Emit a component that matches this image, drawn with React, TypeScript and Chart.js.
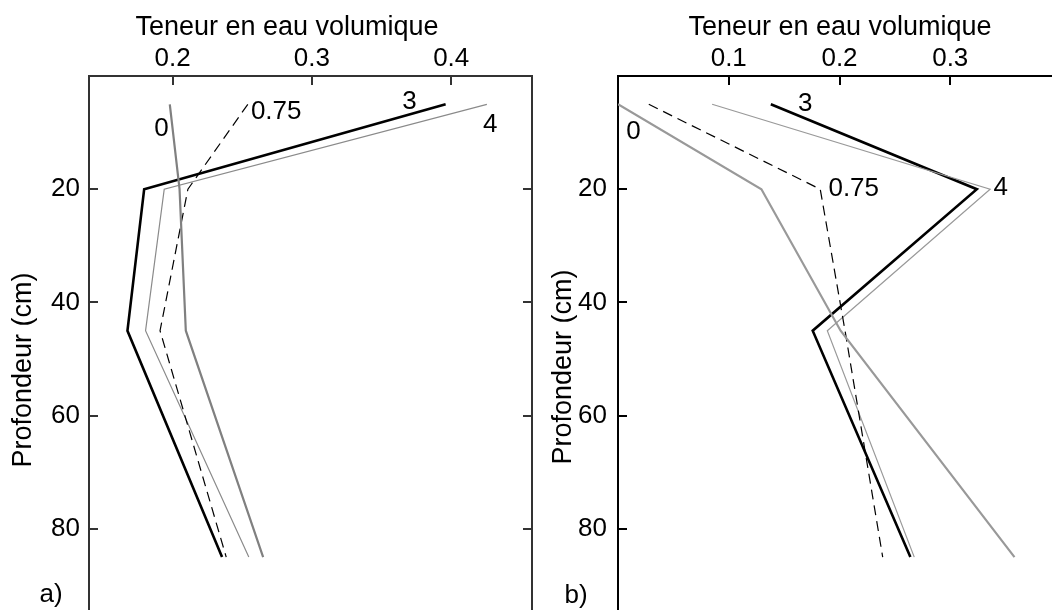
import { useEffect, useRef } from 'react';
import { Chart, registerables } from 'chart.js';
Chart.register(...registerables);

const FONT = "'Liberation Sans', Arial, Helvetica, sans-serif";
const CANVAS_H = 642;

// depths (cm)
const depths = [5, 20, 45, 85];
const yTicks = [20, 40, 60, 80];

// Panel a)
const leftXTicks = [0.2, 0.3, 0.4];
const left0 = [0.198, 0.205, 0.2095, 0.265];
const left075 = [0.254, 0.211, 0.191, 0.2385];
const left3 = [0.396, 0.1796, 0.1676, 0.2355];
const left4 = [0.4256, 0.194, 0.1806, 0.2547];
const leftLabelText = ['0', '0.75', '3', '4'];
const leftLabelX = [0.192, 0.2562, 0.37, 0.428];
const leftLabelY = [9.4, 6.3, 4.6, 8.6];
const leftLabelAlign = ['center', 'left', 'center', 'center'];

// Panel b)
const rightXTicks = [0.1, 0.2, 0.3];
const right0 = [0.0, 0.1295, 0.201, 0.358];
const right075 = [0.0278, 0.1826, 0.205, 0.239];
const right3 = [0.138, 0.324, 0.1758, 0.264];
const right4 = [0.085, 0.336, 0.189, 0.2675];
const rightLabelText = ['3', '0', '0.75', '4'];
const rightLabelX = [0.169, 0.014, 0.19, 0.3455];
const rightLabelY = [5.0, 9.9, 19.9, 19.8];
const rightLabelAlign = ['center', 'center', 'left', 'center'];

const xTitle = 'Teneur en eau volumique';
const yTitle = 'Profondeur (cm)';

type Panel = {
  offsetLeft: number;
  width: number;
  yAxisWidth: number;
  xMin: number;
  xMax: number;
  xTicks: number[];
  series: { data: number[]; color: string; width: number; dash: number[] }[];
  frameColor: string;
  titleX: number;
  yTitleX: number;
  yTitleY: number;
  panelLabel: string;
  panelX: number;
  panelY: number;
  labelText: string[];
  labelX: number[];
  labelY: number[];
  labelAlign: string[];
  yPad: number;
};

const panels: Panel[] = [
  {
    offsetLeft: 0,
    width: 542,
    yAxisWidth: 89,
    xMin: 0.14,
    xMax: 0.458,
    xTicks: leftXTicks,
    series: [
      { data: left0, color: '#808080', width: 2.2, dash: [] },
      { data: left075, color: '#000000', width: 1.2, dash: [10, 6] },
      { data: left4, color: '#8a8a8a', width: 1.2, dash: [] },
      { data: left3, color: '#000000', width: 2.6, dash: [] },
    ],
    frameColor: '#333333',
    titleX: 287,
    yTitleX: 24,
    yTitleY: 370,
    panelLabel: 'a)',
    panelX: 51,
    panelY: 595,
    labelText: leftLabelText,
    labelX: leftLabelX,
    labelY: leftLabelY,
    labelAlign: leftLabelAlign,
    yPad: 9,
  },
  {
    offsetLeft: 527,
    width: 544,
    yAxisWidth: 91,
    xMin: 0,
    xMax: 0.4,
    xTicks: rightXTicks,
    series: [
      { data: right0, color: '#999999', width: 2.2, dash: [] },
      { data: right075, color: '#000000', width: 1.2, dash: [10, 6] },
      { data: right4, color: '#999999', width: 1.2, dash: [] },
      { data: right3, color: '#000000', width: 2.6, dash: [] },
    ],
    frameColor: '#000000',
    titleX: 840,
    yTitleX: 564,
    yTitleY: 367,
    panelLabel: 'b)',
    panelX: 576,
    panelY: 596,
    labelText: rightLabelText,
    labelX: rightLabelX,
    labelY: rightLabelY,
    labelAlign: rightLabelAlign,
    yPad: 11,
  },
];

function PanelChart({ p }: { p: Panel }) {
  const ref = useRef<HTMLCanvasElement | null>(null);
  useEffect(() => {
    if (!ref.current) return;
    const decor = {
      id: 'decor',
      afterDraw(chart: any) {
        const ctx = chart.ctx;
        const area = chart.chartArea;
        const xs = chart.scales.x;
        const ys = chart.scales.y;
        ctx.save();
        // inward ticks
        ctx.strokeStyle = p.frameColor;
        ctx.lineWidth = 2;
        ctx.beginPath();
        p.xTicks.forEach((v) => {
          const px = Math.round(xs.getPixelForValue(v));
          ctx.moveTo(px, area.top);
          ctx.lineTo(px, area.top + 9);
        });
        yTicks.forEach((v) => {
          const py = Math.round(ys.getPixelForValue(v));
          ctx.moveTo(area.left, py);
          ctx.lineTo(area.left + 9, py);
          ctx.moveTo(area.right, py);
          ctx.lineTo(area.right - 9, py);
        });
        ctx.stroke();
        // texts
        ctx.fillStyle = '#000';
        ctx.font = `27px ${FONT}`;
        ctx.textAlign = 'center';
        ctx.textBaseline = 'alphabetic';
        ctx.fillText(xTitle, p.titleX - p.offsetLeft, 35);
        ctx.save();
        ctx.translate(p.yTitleX - p.offsetLeft, p.yTitleY);
        ctx.rotate(-Math.PI / 2);
        ctx.textBaseline = 'middle';
        ctx.fillText(yTitle, 0, 0);
        ctx.restore();
        ctx.font = `26px ${FONT}`;
        ctx.textBaseline = 'middle';
        ctx.fillText(p.panelLabel, p.panelX - p.offsetLeft, p.panelY);
        p.labelText.forEach((t, i) => {
          ctx.textAlign = p.labelAlign[i] as CanvasTextAlign;
          ctx.fillText(t, xs.getPixelForValue(p.labelX[i]), ys.getPixelForValue(p.labelY[i]));
        });
        ctx.restore();
      },
    };
    const noPad = (s: any) => {
      s.paddingTop = 0;
      s.paddingBottom = 0;
      s.paddingLeft = 0;
      s.paddingRight = 0;
    };
    const chart = new Chart(ref.current, {
      type: 'line',
      data: {
        datasets: p.series.map((s) => ({
          data: s.data.map((v, i) => ({ x: v, y: depths[i] })),
          borderColor: s.color,
          borderWidth: s.width,
          borderDash: s.dash,
          pointRadius: 0,
          fill: false,
          tension: 0,
          borderJoinStyle: 'miter' as const,
          borderCapStyle: 'butt' as const,
        })),
      },
      options: {
        responsive: false,
        maintainAspectRatio: false,
        animation: false,
        devicePixelRatio: 1,
        layout: { padding: 0 },
        plugins: { legend: { display: false }, tooltip: { enabled: false } },
        scales: {
          x: {
            type: 'linear',
            position: 'top',
            min: p.xMin,
            max: p.xMax,
            afterBuildTicks: (s: any) => {
              s.ticks = p.xTicks.map((v) => ({ value: v }));
            },
            afterFit: (s: any) => {
              s.height = 76;
              noPad(s);
            },
            grid: { display: false, drawTicks: false },
            border: { display: true, color: p.frameColor, width: 2 },
            ticks: {
              padding: 2,
              color: '#000',
              font: { family: FONT, size: 26 },
              maxRotation: 0,
              callback: (v: any) => Number(v).toFixed(1),
            },
          },
          y: {
            type: 'linear',
            position: 'left',
            reverse: true,
            min: 0,
            max: 100,
            afterBuildTicks: (s: any) => {
              s.ticks = yTicks.map((v) => ({ value: v }));
            },
            afterFit: (s: any) => {
              s.width = p.yAxisWidth;
              noPad(s);
            },
            grid: { display: false, drawTicks: false },
            border: { display: true, color: p.frameColor, width: 2 },
            ticks: {
              padding: p.yPad,
              color: '#000',
              font: { family: FONT, size: 26 },
              callback: (v: any) => String(v),
            },
          },
          y2: {
            type: 'linear',
            position: 'right',
            reverse: true,
            min: 0,
            max: 100,
            afterFit: (s: any) => {
              s.width = 10;
              noPad(s);
            },
            grid: { display: false, drawTicks: false },
            border: { display: true, color: p.frameColor, width: 2 },
            ticks: { display: false },
          },
        },
      } as any,
      plugins: [decor],
    });
    return () => chart.destroy();
  }, [p]);
  return (
    <canvas
      ref={ref}
      width={p.width}
      height={CANVAS_H}
      style={{ position: 'absolute', left: p.offsetLeft, top: 0, width: p.width, height: CANVAS_H }}
    />
  );
}

export default function App() {
  return (
    <div
      style={{
        position: 'fixed',
        left: 0,
        top: 0,
        width: 1052,
        height: 610,
        overflow: 'hidden',
        background: '#fff',
      }}
    >
      {panels.map((p, i) => (
        <PanelChart key={i} p={p} />
      ))}
    </div>
  );
}
